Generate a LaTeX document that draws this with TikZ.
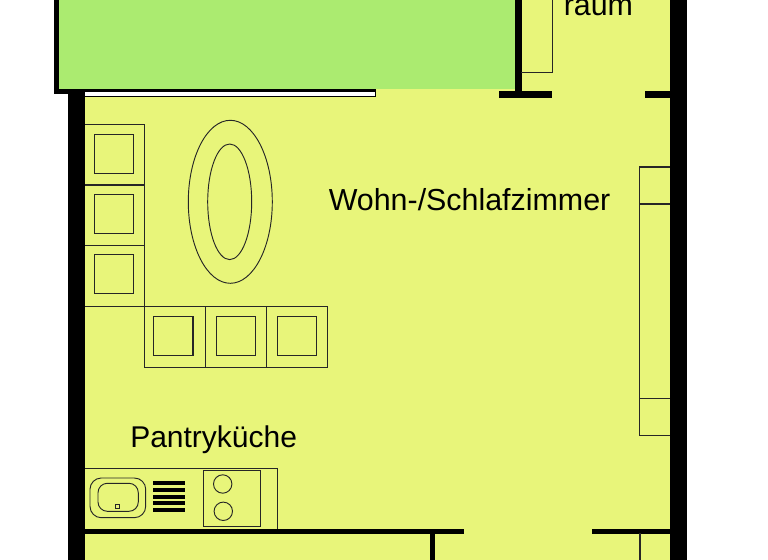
\documentclass[tikz,border=0pt]{standalone}
\usepackage{fontspec}
\setmainfont{Liberation Sans}
\definecolor{roomyellow}{HTML}{E8F57A}
\definecolor{balcgreen}{HTML}{ABEB70}
\tikzset{
  wall/.style={fill=black,draw=none},
  thin line/.style={draw=black!85,line width=0.85pt,fill=none},
  fine line/.style={draw=black!85,line width=0.7pt,fill=none},
  roomlabel/.style={anchor=base west,inner sep=0pt,font=\fontsize{22.8pt}{26pt}\selectfont,text=black}
}
\begin{document}
\begin{tikzpicture}[x=0.75pt,y=-0.75pt]
\useasboundingbox (0,0) rectangle (768,560);
\fill[white] (0,0) rectangle (768,560);
% floors
\fill[roomyellow] (85,89) rectangle (670,560);
\fill[roomyellow] (521,0) rectangle (670,91);
\fill[balcgreen] (59,0) rectangle (515,89);
% walls
\fill[wall] (68,90) rectangle (85,560);
\fill[wall] (669.5,0) rectangle (687,560);
\fill[wall] (54,0) rectangle (59,94);
\fill[wall] (54,89) rectangle (85,94);
\fill[wall] (515,0) rectangle (521.5,92);
\fill[wall] (499,90.8) rectangle (552,97.6);
\fill[wall] (645,90.8) rectangle (670,97.6);
\fill[wall] (85,529) rectangle (464,533.5);
\fill[wall] (592,529) rectangle (670,533.5);
\fill[wall] (429.5,533) rectangle (435,560);
% window
\fill[black] (85,89) rectangle (376,97.4);
\fill[white] (85,91.7) rectangle (375,96);
% closet and wardrobe
\draw[thin line] (552.5,0) -- (552.5,72.7) -- (521,72.7);
\draw[thin line] (670,167) -- (639.5,167) -- (639.5,435.3) -- (670,435.3);
\draw[thin line] (639.5,204) -- (670,204) (639.5,398.3) -- (670,398.3);
\draw[thin line] (640,533) -- (640,560);
% chairs, left column
\draw[thin line] (85,124.3) -- (144.7,124.3) -- (144.7,306.3) -- (85,306.3);
\draw[thin line] (85,185) -- (144.7,185) (85,245.7) -- (144.7,245.7);
\draw[thin line] (94.3,134.3) rectangle (133.7,173.3);
\draw[thin line] (94.3,194.3) rectangle (133.7,233.3);
\draw[thin line] (94.3,254.7) rectangle (133.7,293.7);
% chairs, bottom row
\draw[thin line] (144.7,306.3) rectangle (327.3,367.3);
\draw[thin line] (205.7,306.3) -- (205.7,367.3) (266.3,306.3) -- (266.3,367.3);
\draw[thin line] (153.7,316.3) rectangle (193,355.3);
\draw[thin line] (216.3,316.3) rectangle (255.3,355.3);
\draw[thin line] (277.3,316.3) rectangle (316.3,355.3);
% table
\draw[fine line] (230.3,201.8) ellipse [x radius=42,y radius=81.5];
\draw[fine line] (229.7,201.8) ellipse [x radius=22,y radius=57.8];
% kitchen
\draw[thin line] (85,468.3) -- (277.3,468.3) -- (277.3,529);
\draw[thin line] (203.7,470.3) rectangle (260.7,526.7);
\draw[fine line] (222.7,484) circle [radius=9.2];
\draw[fine line] (223.3,511.3) circle [radius=9.2];
\draw[fine line,rounded corners=8.5pt] (90,478) rectangle (145.7,517.7);
\draw[fine line,rounded corners=7pt] (98,483.3) rectangle (138.3,511.3);
\draw[fine line] (115.7,504.3) rectangle (119.7,508.7);
\foreach \yy in {483.3,490,496.7,503.3,510.3}
  \fill[black] (152.7,\yy-1.9) rectangle (185,\yy+1.9);
% labels
\node[roomlabel] (wohn) at (328.5,210) {Wohn-/Schlafzimmer};
\node[roomlabel,font=\fontsize{22.5pt}{26pt}\selectfont] (pantry) at (130,447.5) {Pantryküche};
\node[roomlabel] (raum) at (563.5,16) {raum};
\end{tikzpicture}
\end{document}
